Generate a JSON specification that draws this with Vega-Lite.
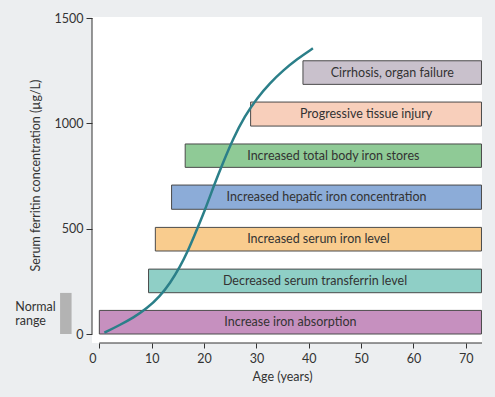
{
  "$schema": "https://vega.github.io/schema/vega-lite/v6.json",
  "width": 390,
  "height": 326,
  "autosize": {"type": "none"},
  "padding": {"left": 92, "top": 17, "right": 13, "bottom": 54},
  "background": "#eceef0",
  "config": {
    "view": {"fill": "white", "stroke": null},
    "font": "Lato",
    "axis": {"labelFont": "Lato", "titleFont": "Lato", "labelColor": "#333333", "titleColor": "#333333", "labelFontSize": 12.5, "titleFontSize": 12.5, "titleFontWeight": "normal", "tickColor": "#333333", "grid": false, "domain": false}
  },
  "datasets": {
    "stages": [
      {"stage": "Increase iron absorption", "start": 0, "end": 73, "lo": 0, "hi": 112, "color": "#c690bf"},
      {"stage": "Decreased serum transferrin level", "start": 9.4, "end": 73, "lo": 196, "hi": 308, "color": "#8fcfc6"},
      {"stage": "Increased serum iron level", "start": 10.7, "end": 73, "lo": 394, "hi": 506, "color": "#f9cc8e"},
      {"stage": "Increased hepatic iron concentration", "start": 13.8, "end": 73, "lo": 592, "hi": 707, "color": "#8cacd8"},
      {"stage": "Increased total body iron stores", "start": 16.4, "end": 73, "lo": 791, "hi": 902, "color": "#8fca96"},
      {"stage": "Progressive tissue injury", "start": 28.9, "end": 73, "lo": 987, "hi": 1101, "color": "#f8cfbb"},
      {"stage": "Cirrhosis, organ failure", "start": 38.9, "end": 73, "lo": 1185, "hi": 1297, "color": "#c9c1cc"}
    ],
    "curve": [
      {"age": 0.96, "ferritin": 6},
      {"age": 3.95, "ferritin": 43},
      {"age": 6.5, "ferritin": 78},
      {"age": 9.05, "ferritin": 120},
      {"age": 11.6, "ferritin": 180},
      {"age": 13.5, "ferritin": 241},
      {"age": 15.4, "ferritin": 318},
      {"age": 17.0, "ferritin": 399},
      {"age": 18.0, "ferritin": 458},
      {"age": 20.2, "ferritin": 589},
      {"age": 22.0, "ferritin": 712},
      {"age": 23.5, "ferritin": 805},
      {"age": 25.6, "ferritin": 930},
      {"age": 27.8, "ferritin": 1035},
      {"age": 30.1, "ferritin": 1119},
      {"age": 32.6, "ferritin": 1192},
      {"age": 35.2, "ferritin": 1253},
      {"age": 37.7, "ferritin": 1304},
      {"age": 40.8, "ferritin": 1356}
    ],
    "normal": [
      {"label": "Normal range", "lo": 0, "hi": 195}
    ]
  },
  "layer": [
    {
      "data": {"name": "stages"},
      "mark": {"type": "rect", "stroke": "#4a4a4a", "strokeWidth": 1},
      "encoding": {
        "x": {"field": "start", "type": "quantitative", "scale": {"domain": [-1.4, 73.1], "nice": false, "zero": false},
              "axis": {"title": "Age (years)", "values": [0, 10, 20, 30, 40, 50, 60, 70], "tickSize": 5, "labelPadding": 4, "titlePadding": 6, "labelOffset": {"expr": "datum.value === 0 ? -7 : 0"}, "titleX": 190}},
        "x2": {"field": "end"},
        "y": {"field": "lo", "type": "quantitative", "scale": {"domain": [-42.7, 1504.75], "nice": false, "zero": false},
              "axis": {"title": "Serum ferritin concentration (µg/L)", "values": [0, 500, 1000, 1500], "format": "d", "tickSize": 6, "labelPadding": 3, "titlePadding": 12, "titleY": 158}},
        "y2": {"field": "hi"},
        "fill": {"field": "color", "type": "nominal", "scale": null}
      }
    },
    {
      "data": {"name": "stages"},
      "transform": [
        {"calculate": "(datum.start + datum.end) / 2", "as": "mid"},
        {"calculate": "(datum.lo + datum.hi) / 2", "as": "ymid"}
      ],
      "mark": {"type": "text", "fontSize": 12.5, "color": "#333333", "baseline": "middle", "align": "center"},
      "encoding": {
        "x": {"field": "mid", "type": "quantitative"},
        "y": {"field": "ymid", "type": "quantitative"},
        "text": {"field": "stage"}
      }
    },
    {
      "data": {"name": "curve"},
      "mark": {"type": "line", "interpolate": "basis", "color": "#2b7f89", "strokeWidth": 2.5},
      "encoding": {
        "x": {"field": "age", "type": "quantitative"},
        "y": {"field": "ferritin", "type": "quantitative"}
      }
    },
    {
      "data": {"values": [{}]},
      "mark": {"type": "rule", "color": "#333333", "strokeWidth": 1},
      "encoding": {
        "x": {"datum": -1.4},
        "y": {"datum": 0},
        "y2": {"datum": 1500}
      }
    },
    {
      "data": {"values": [{}]},
      "mark": {"type": "rule", "color": "#333333", "strokeWidth": 1},
      "encoding": {
        "x": {"datum": 0},
        "x2": {"datum": 73.1},
        "y": {"datum": -42.7}
      }
    },
    {
      "data": {"name": "normal"},
      "mark": {"type": "rect", "fill": "#b3b3b3", "clip": false},
      "encoding": {
        "x": {"datum": -7.5},
        "x2": {"datum": -5.3},
        "y": {"field": "lo", "type": "quantitative"},
        "y2": {"field": "hi"}
      }
    },
    {
      "data": {"name": "normal"},
      "mark": {"type": "text", "fontSize": 12.5, "color": "#333333", "align": "left", "baseline": "alphabetic", "lineBreak": " ", "lineHeight": 14.5, "clip": false},
      "encoding": {
        "x": {"datum": -16.05},
        "y": {"datum": 110},
        "text": {"field": "label"}
      }
    }
  ]
}
